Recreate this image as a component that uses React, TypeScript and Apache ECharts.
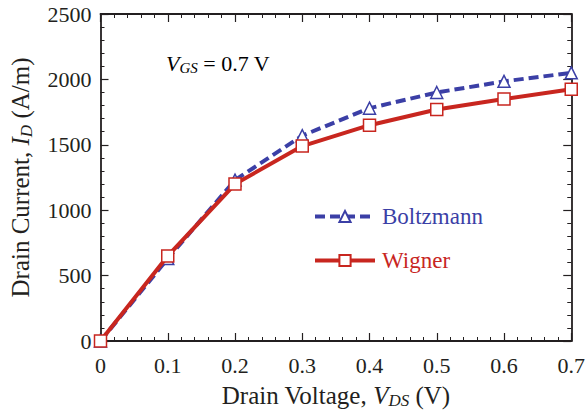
import React, { useEffect, useRef } from "react";
import * as echarts from "echarts";

const vds = [0, 0.1, 0.2, 0.3, 0.4, 0.5, 0.6, 0.7];
const boltzmann = [0, 630, 1230, 1570, 1780, 1900, 1985, 2050];
const wigner = [0, 650, 1200, 1490, 1650, 1770, 1850, 1925];
const seriesNames = ["Boltzmann", "Wigner"];

const BLUE = "#3b3fa6";
const RED = "#c8261f";
const FONT = "Liberation Serif";
const INK = "#231f20";

function axisLine() {
  return { show: true, onZero: false, lineStyle: { color: INK, width: 1.8 } };
}
function tick() {
  return { show: true, inside: true, length: 8, lineStyle: { color: INK, width: 1.2 } };
}
function minor() {
  return { show: true, splitNumber: 5, length: 4, lineStyle: { color: INK, width: 1 } };
}
function rich(main: number, sub: number) {
  return {
    n: { fontFamily: FONT, fontSize: main, color: INK },
    i: { fontFamily: FONT, fontSize: main, color: INK, fontStyle: "italic" },
    s: { fontFamily: FONT, fontSize: sub, color: INK, fontStyle: "italic", padding: [Math.round(main * 0.45), 0, 0, 0] },
  };
}

export default function App() {
  const ref = useRef<HTMLDivElement>(null);
  useEffect(() => {
    const chart = echarts.init(ref.current!, null, { renderer: "svg" });
    chart.setOption({
      animation: false,
      grid: { left: 98, right: 14, top: 14, bottom: 76, containLabel: false },
      xAxis: [
        {
          type: "value",
          min: 0,
          max: 0.7,
          interval: 0.1,
          position: "bottom",
          axisLine: axisLine(),
          axisTick: tick(),
          minorTick: minor(),
          splitLine: { show: false },
          axisLabel: {
            fontFamily: FONT,
            fontSize: 22,
            color: INK,
            margin: 13,
            formatter: (v: number) => (v === 0 ? "0" : v.toFixed(1)),
          },
          name: "{n|Drain Voltage, }{i|V}{s|DS}{n| (V)}",
          nameLocation: "middle",
          nameGap: 40,
          nameTextStyle: { rich: rich(25, 17) },
        },
        {
          type: "value",
          min: 0,
          max: 0.7,
          interval: 0.1,
          position: "top",
          axisLine: axisLine(),
          axisTick: tick(),
          minorTick: minor(),
          splitLine: { show: false },
          axisLabel: { show: false },
        },
      ],
      yAxis: [
        {
          type: "value",
          min: 0,
          max: 2500,
          interval: 500,
          position: "left",
          axisLine: axisLine(),
          axisTick: tick(),
          minorTick: minor(),
          splitLine: { show: false },
          axisLabel: {
            fontFamily: FONT,
            fontSize: 22,
            color: INK,
            margin: 9,
            formatter: (v: number) => String(v),
          },
          name: "{n|Drain Current, }{i|I}{s|D}{n| (A/m)}",
          nameLocation: "middle",
          nameGap: 66,
          nameTextStyle: { rich: rich(25, 17) },
        },
        {
          type: "value",
          min: 0,
          max: 2500,
          interval: 500,
          position: "right",
          axisLine: axisLine(),
          axisTick: tick(),
          minorTick: minor(),
          splitLine: { show: false },
          axisLabel: { show: false },
        },
      ],
      legend: {
        orient: "vertical",
        left: 313,
        top: 205,
        padding: 0,
        itemWidth: 60,
        itemHeight: 14,
        itemGap: 21,
        lineStyle: { width: 4 },
        data: [
          { name: seriesNames[0], textStyle: { color: BLUE } },
          { name: seriesNames[1], textStyle: { color: RED } },
        ],
        textStyle: { fontFamily: FONT, fontSize: 23, padding: [0, 0, 0, 2] },
      },
      graphic: [
        {
          type: "text",
          left: 166,
          top: 52,
          style: {
            text: "{i|V}{s|GS}{n| = 0.7 V}",
            rich: rich(22, 15),
          },
        },
      ],
      series: [
        {
          name: seriesNames[0],
          type: "line",
          data: vds.map((x, k) => [x, boltzmann[k]]),
          symbol: "triangle",
          symbolSize: 12,
          lineStyle: { color: BLUE, width: 4, type: [10, 5] },
          itemStyle: { color: "#ffffff", borderColor: BLUE, borderWidth: 1.5 },
          z: 2,
        },
        {
          name: seriesNames[1],
          type: "line",
          data: vds.map((x, k) => [x, wigner[k]]),
          symbol: "rect",
          symbolSize: 12,
          lineStyle: { color: RED, width: 4 },
          itemStyle: { color: "#ffffff", borderColor: RED, borderWidth: 1.5 },
          z: 3,
        },
      ],
    });
    return () => chart.dispose();
  }, []);
  return <div ref={ref} style={{ width: 588, height: 417, position: "absolute", left: 0, top: 0 }} />;
}
